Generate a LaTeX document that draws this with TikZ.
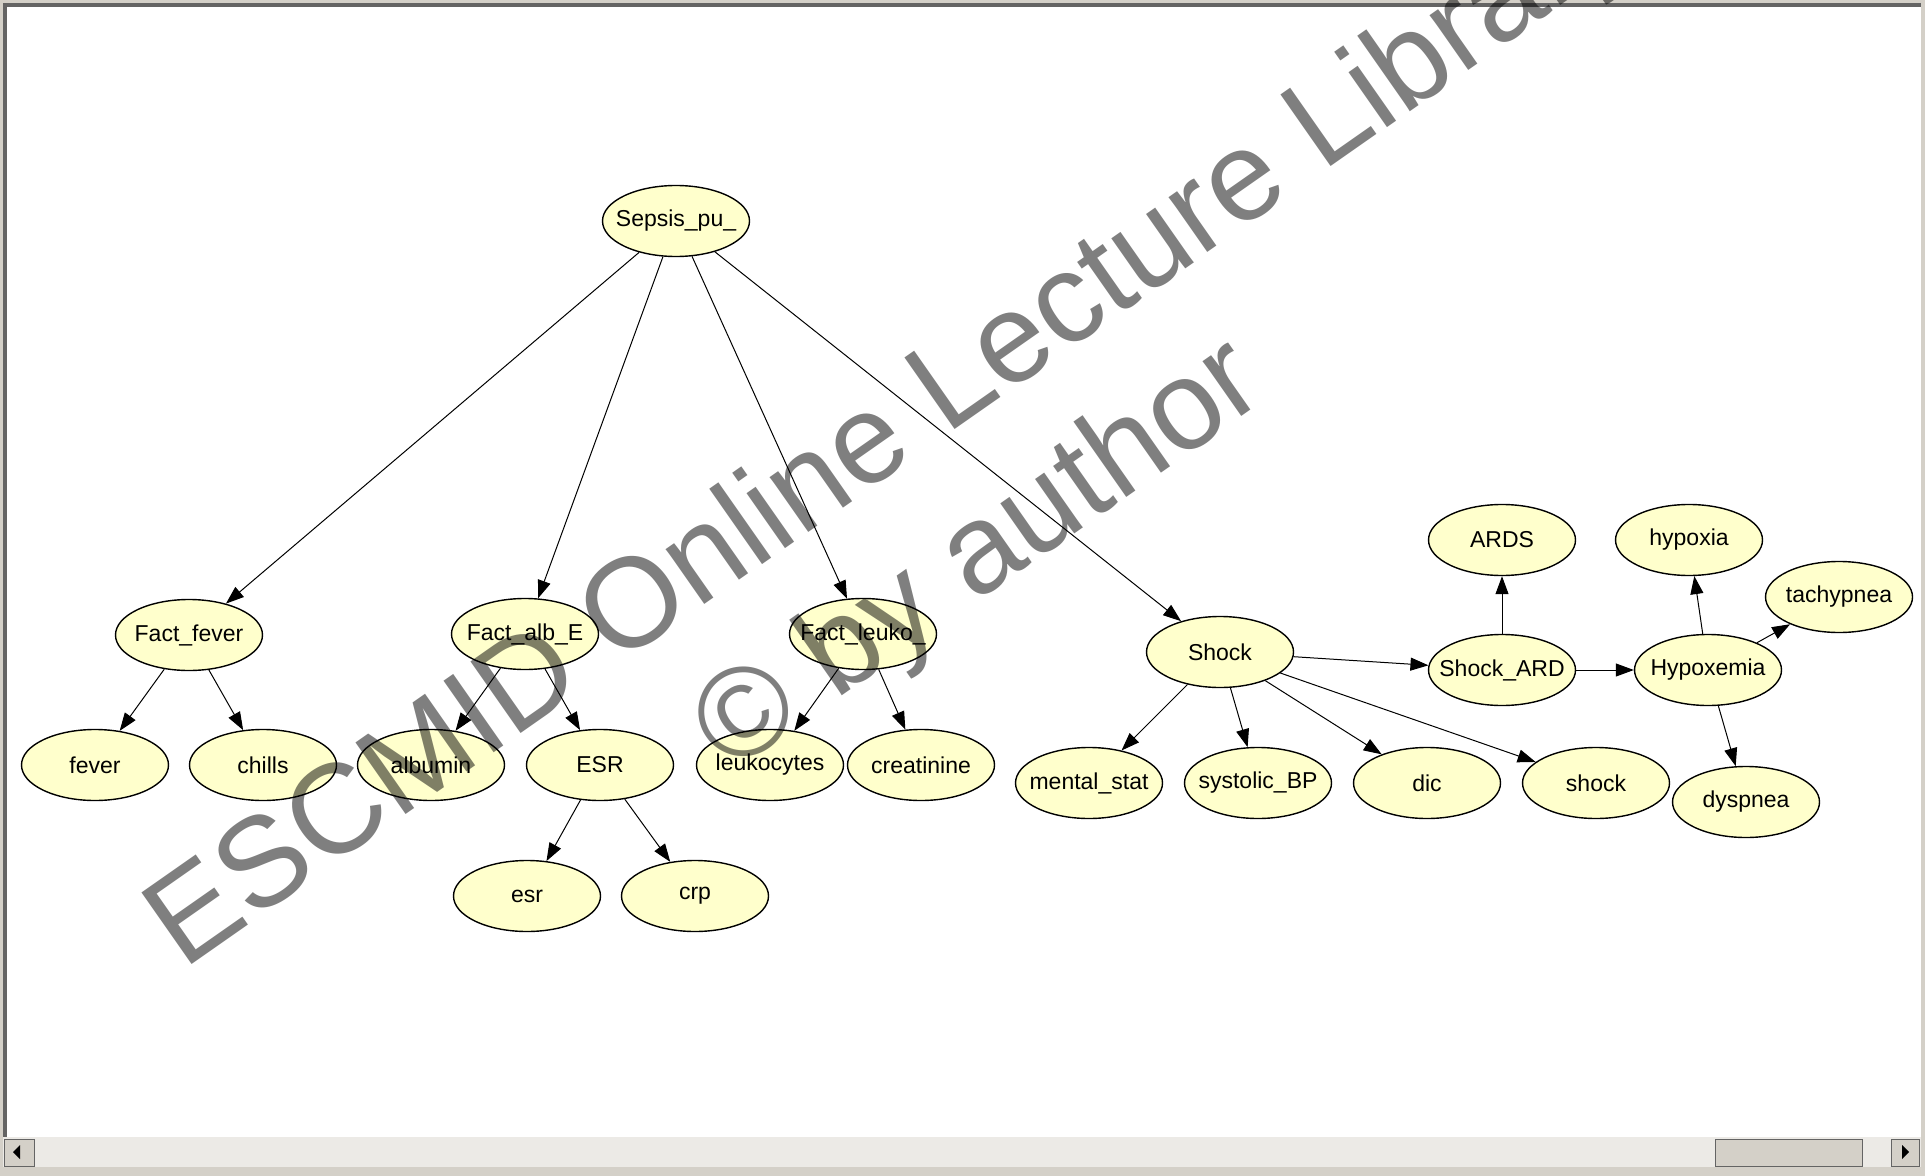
\documentclass[tikz,border=0pt]{standalone}
\usepackage{fontspec}
\setmainfont{Liberation Sans}
\usetikzlibrary{shapes.geometric,arrows.meta}

\definecolor{nodeyellow}{RGB}{255,255,204}
\definecolor{winface}{RGB}{212,208,200}
\definecolor{winshade}{RGB}{100,100,100}
\definecolor{scrolltrack}{RGB}{236,234,230}

\newcommand{\vlabel}[1]{\makebox[0pt]{#1}}

\begin{document}
\begin{tikzpicture}[x=0.5pt,y=-0.5pt,
  var/.style={ellipse,draw=black,line width=0.7pt,fill=nodeyellow,
    minimum width=73.5pt,minimum height=35.5pt,inner sep=0pt,
    font=\fontsize{11.5}{13}\selectfont},
  edge/.style={-{Triangle[length=9pt,width=6.5pt]},line width=0.5pt},
  wmark/.style={text=black,text opacity=0.5,rotate=35,anchor=base,inner sep=0pt,
    font=\fontsize{63.5}{76}\selectfont}]
\useasboundingbox (0,0) rectangle (1925,1176);
% window frame
\fill[winface] (0,0) rectangle (1925,1176);
\fill[winshade] (3,3) rectangle (1921,1137);
\fill[white] (7,7) rectangle (1921,1137);
% scroll bar
\fill[scrolltrack] (3,1137) rectangle (1921,1167);
\draw[winshade,fill=winface] (4,1139) rectangle (34,1166);
\fill[black] (13,1152) -- (20,1145) -- (20,1159) -- cycle;
\draw[winshade,fill=winface] (1715,1139) rectangle (1862,1166);
\draw[winshade,fill=winface] (1891,1139) rectangle (1919,1166);
\fill[black] (1909,1152) -- (1902,1145) -- (1902,1159) -- cycle;

% network
\node[var] (sepsis) at (676,221) {\vlabel{Sepsis\_pu\_}};
\node[var] (factfever) at (189,635) {\vlabel{Fact\_fever}};
\node[var] (fever) at (95,765) {\vlabel{fever}};
\node[var] (chills) at (263,765) {\vlabel{chills}};
\node[var] (factalb) at (525,634) {\vlabel{Fact\_alb\_E}};
\node[var] (albumin) at (431,765) {\vlabel{albumin}};
\node[var] (ESRnode) at (600,765) {\vlabel{ESR}};
\node[var] (esrobs) at (527,896) {\vlabel{esr}};
\node[var] (crp) at (695,896) {\vlabel{crp}};
\node[var] (factleuko) at (863,634) {\vlabel{Fact\_leuko\_}};
\node[var] (leukocytes) at (770,765) {\vlabel{leukocytes}};
\node[var] (creatinine) at (921,765) {\vlabel{creatinine}};
\node[var] (Shock) at (1220,652) {\vlabel{Shock}};
\node[var] (mentalstat) at (1089,783) {\vlabel{mental\_stat}};
\node[var] (systolic) at (1258,783) {\vlabel{systolic\_BP}};
\node[var] (dic) at (1427,783) {\vlabel{dic}};
\node[var] (shockobs) at (1596,783) {\vlabel{shock}};
\node[var] (shockard) at (1502,670) {\vlabel{Shock\_ARD}};
\node[var] (ARDS) at (1502,540) {\vlabel{ARDS}};
\node[var] (hypoxemia) at (1708,670) {\vlabel{Hypoxemia}};
\node[var] (hypoxia) at (1689,540) {\vlabel{hypoxia}};
\node[var] (tachypnea) at (1839,597) {\vlabel{tachypnea}};
\node[var] (dyspnea) at (1746,802) {\vlabel{dyspnea}};

\draw[edge] (sepsis) -- (factfever);
\draw[edge] (sepsis) -- (factalb);
\draw[edge] (sepsis) -- (factleuko);
\draw[edge] (sepsis) -- (Shock);
\draw[edge] (factfever) -- (fever);
\draw[edge] (factfever) -- (chills);
\draw[edge] (factalb) -- (albumin);
\draw[edge] (factalb) -- (ESRnode);
\draw[edge] (ESRnode) -- (esrobs);
\draw[edge] (ESRnode) -- (crp);
\draw[edge] (factleuko) -- (leukocytes);
\draw[edge] (factleuko) -- (creatinine);
\draw[edge] (Shock) -- (mentalstat);
\draw[edge] (Shock) -- (systolic);
\draw[edge] (Shock) -- (dic);
\draw[edge] (Shock) -- (shockobs);
\draw[edge] (Shock) -- (shockard);
\draw[edge] (shockard) -- (ARDS);
\draw[edge] (shockard) -- (hypoxemia);
\draw[edge] (hypoxemia) -- (hypoxia);
\draw[edge] (hypoxemia) -- (tachypnea);
\draw[edge] (hypoxemia) -- (dyspnea);

% watermark
\node[wmark] (wmline) at (912,460) {ESCMID Online Lecture Library};
\node[wmark] (wmby) at (1000,586) {© by author};
\end{tikzpicture}
\end{document}
